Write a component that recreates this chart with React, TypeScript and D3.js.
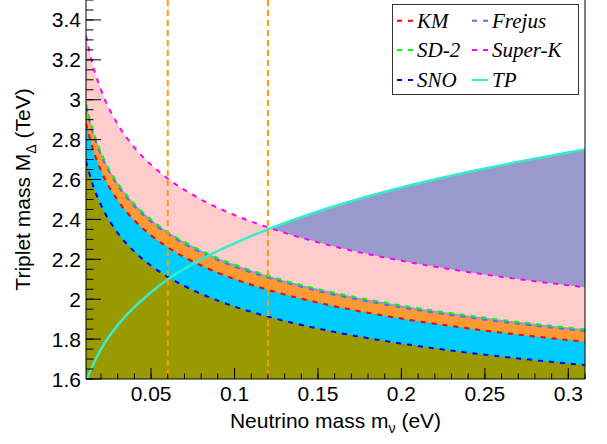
import React from "react";
import * as d3 from "d3";

// Neutrino mass grid (eV) for the exclusion curves
const mnu = [0.011, 0.015, 0.02, 0.03, 0.04, 0.05, 0.06, 0.08, 0.1, 0.12, 0.15, 0.2, 0.25, 0.31];
// Triplet mass limits (TeV)
const sno = [2.692, 2.575, 2.472, 2.332, 2.238, 2.168, 2.112, 2.027, 1.963, 1.913, 1.853, 1.778, 1.722, 1.67];
const km = [2.881, 2.756, 2.645, 2.496, 2.395, 2.32, 2.26, 2.169, 2.101, 2.047, 1.983, 1.903, 1.843, 1.787];
const frejus = [2.966, 2.837, 2.723, 2.57, 2.466, 2.388, 2.327, 2.233, 2.163, 2.108, 2.041, 1.959, 1.897, 1.84];
const sd2 = [2.981, 2.851, 2.737, 2.582, 2.478, 2.4, 2.338, 2.244, 2.174, 2.118, 2.051, 1.969, 1.907, 1.849];
const superK = [3.321, 3.177, 3.049, 2.877, 2.76, 2.674, 2.605, 2.5, 2.422, 2.36, 2.285, 2.193, 2.124, 2.06];
// TP curve
const tpMnu = [0.0116, 0.015, 0.02, 0.03, 0.04, 0.05, 0.06, 0.08, 0.1, 0.12, 0.15, 0.2, 0.25, 0.31];
const tp = [1.6, 1.668, 1.75, 1.87, 1.96, 2.035, 2.1, 2.2, 2.28, 2.35, 2.44, 2.56, 2.655, 2.75];
// Vertical reference lines
const vLines = [0.06, 0.12];
// Ticks
const xMajor = [0.05, 0.1, 0.15, 0.2, 0.25, 0.3];
const xTickLabels = ["0.05", "0.1", "0.15", "0.2", "0.25", "0.3"];
const yMajor = [1.6, 1.8, 2, 2.2, 2.4, 2.6, 2.8, 3, 3.2, 3.4];
const yTickLabels = ["1.6", "1.8", "2", "2.2", "2.4", "2.6", "2.8", "3", "3.2", "3.4"];

const legendItems = [
  { label: "KM", color: "#ff0000", dashed: true },
  { label: "Frejus", color: "#6666ee", dashed: true },
  { label: "SD-2", color: "#00ff00", dashed: true },
  { label: "Super-K", color: "#ff00ff", dashed: true },
  { label: "SNO", color: "#0000ff", dashed: true },
  { label: "TP", color: "#33eecc", dashed: false },
];

const L = 86, R = 585, T = 0, B = 379;

export default function App() {
  const x = d3.scaleLinear().domain([0.011, 0.31]).range([L, R]);
  const y = d3.scaleLinear().domain([1.6, 3.5]).range([B, T]);

  const areaTo = (xs: number[], vals: number[]) =>
    d3.area<number>().x((_, i) => x(xs[i])).y0(B + 5).y1((v) => y(v)).curve(d3.curveMonotoneX)(vals) || "";
  const lineOf = (xs: number[], vals: number[]) =>
    d3.line<number>().x((_, i) => x(xs[i])).y((v) => y(v)).curve(d3.curveMonotoneX)(vals) || "";

  const xMinor: number[] = [];
  for (let i = 2; i <= 31; i++) xMinor.push(i / 100);
  const yMinor: number[] = [];
  for (let i = 0; i <= 38; i++) yMinor.push(1.6 + i * 0.05);

  const curves = [
    { v: sno, c: "#0000ff" },
    { v: km, c: "#ff0000" },
    { v: frejus, c: "#6666ee" },
    { v: sd2, c: "#00ff00" },
    { v: superK, c: "#ff00ff" },
  ];

  const sans = "'Liberation Sans', Arial, Helvetica, sans-serif";
  const serif = "'Liberation Serif', 'Times New Roman', serif";

  return (
    <svg width={607} height={444} style={{ position: "absolute", left: 0, top: 0, background: "#fff" }}>
      <defs>
        <clipPath id="plotclip">
          <rect x={L} y={T} width={R - L} height={B - T} />
        </clipPath>
      </defs>
      <rect x={0} y={0} width={607} height={444} fill="#fff" />
      <g clipPath="url(#plotclip)">
        <path d={areaTo(tpMnu, tp)} fill="#9999cc" />
        <path d={areaTo(mnu, superK)} fill="#ffcccc" />
        <path d={areaTo(mnu, sd2)} fill="#9999cc" />
        <path d={areaTo(mnu, frejus)} fill="#ff9933" />
        <path d={areaTo(mnu, km)} fill="#00ccff" />
        <path d={areaTo(mnu, sno)} fill="#999900" />
        {curves.map((c, i) => (
          <path key={i} d={lineOf(mnu, c.v)} fill="none" stroke={c.c} strokeWidth={2} strokeDasharray="5 6" />
        ))}
        <path d={lineOf(tpMnu, tp)} fill="none" stroke="#33eecc" strokeWidth={2.5} />
        {vLines.map((v, i) => (
          <line key={i} x1={x(v)} x2={x(v)} y1={T} y2={B} stroke="#ff9900" strokeWidth={2} strokeDasharray="6 4" />
        ))}
      </g>
      {/* axes */}
      <line x1={L} x2={L} y1={T} y2={B} stroke="#000" strokeWidth={1} />
      <line x1={L} x2={R} y1={B} y2={B} stroke="#000" strokeWidth={1} />
      <line x1={R} x2={R} y1={T} y2={B} stroke="#000" strokeWidth={1} />
      {xMinor.map((v, i) => (
        <line key={"xm" + i} x1={x(v)} x2={x(v)} y1={B} y2={B - 5.5} stroke="#000" />
      ))}
      {xMajor.map((v, i) => (
        <line key={"xM" + i} x1={x(v)} x2={x(v)} y1={B} y2={B - 11} stroke="#000" />
      ))}
      {yMinor.map((v, i) => (
        <line key={"ym" + i} x1={L} x2={L + 7.5} y1={y(v)} y2={y(v)} stroke="#000" />
      ))}
      {yMajor.map((v, i) => (
        <line key={"yM" + i} x1={L} x2={L + 15} y1={y(v)} y2={y(v)} stroke="#000" />
      ))}
      {xMajor.map((v, i) => (
        <text key={"xl" + i} x={x(v)} y={401} textAnchor="middle" fontFamily={sans} fontSize={21}>
          {xTickLabels[i]}
        </text>
      ))}
      {yMajor.map((v, i) => (
        <text key={"yl" + i} x={81} y={y(v) + 7.5} textAnchor="end" fontFamily={sans} fontSize={21}>
          {yTickLabels[i]}
        </text>
      ))}
      <text x={(L + R) / 2} y={428} textAnchor="middle" fontFamily={sans} fontSize={21}>
        Neutrino mass m<tspan fontSize={14} dy={5}>ν</tspan>
        <tspan dy={-5}> (eV)</tspan>
      </text>
      <text transform={`translate(30, ${(T + B) / 2}) rotate(-90)`} textAnchor="middle" fontFamily={sans} fontSize={21}>
        Triplet mass M<tspan fontSize={14} dy={6}>Δ</tspan>
        <tspan dy={-6}> (TeV)</tspan>
      </text>
      {/* legend */}
      <rect x={392.5} y={4.5} width={186} height={90} fill="#fff" stroke="#333" strokeWidth={1} />
      {legendItems.map((it, i) => {
        const col = i % 2;
        const row = Math.floor(i / 2);
        const lx = col === 0 ? 397 : 472;
        const ly = [20.7, 50, 80][row];
        return (
          <g key={"lg" + i}>
            <line x1={lx} x2={lx + 16} y1={ly} y2={ly} stroke={it.color} strokeWidth={2}
              strokeDasharray={it.dashed ? "5 6" : undefined} />
            <text x={lx + 20} y={ly + 7} fontFamily={serif} fontStyle="italic" fontSize={21}>
              {it.label}
            </text>
          </g>
        );
      })}
    </svg>
  );
}
